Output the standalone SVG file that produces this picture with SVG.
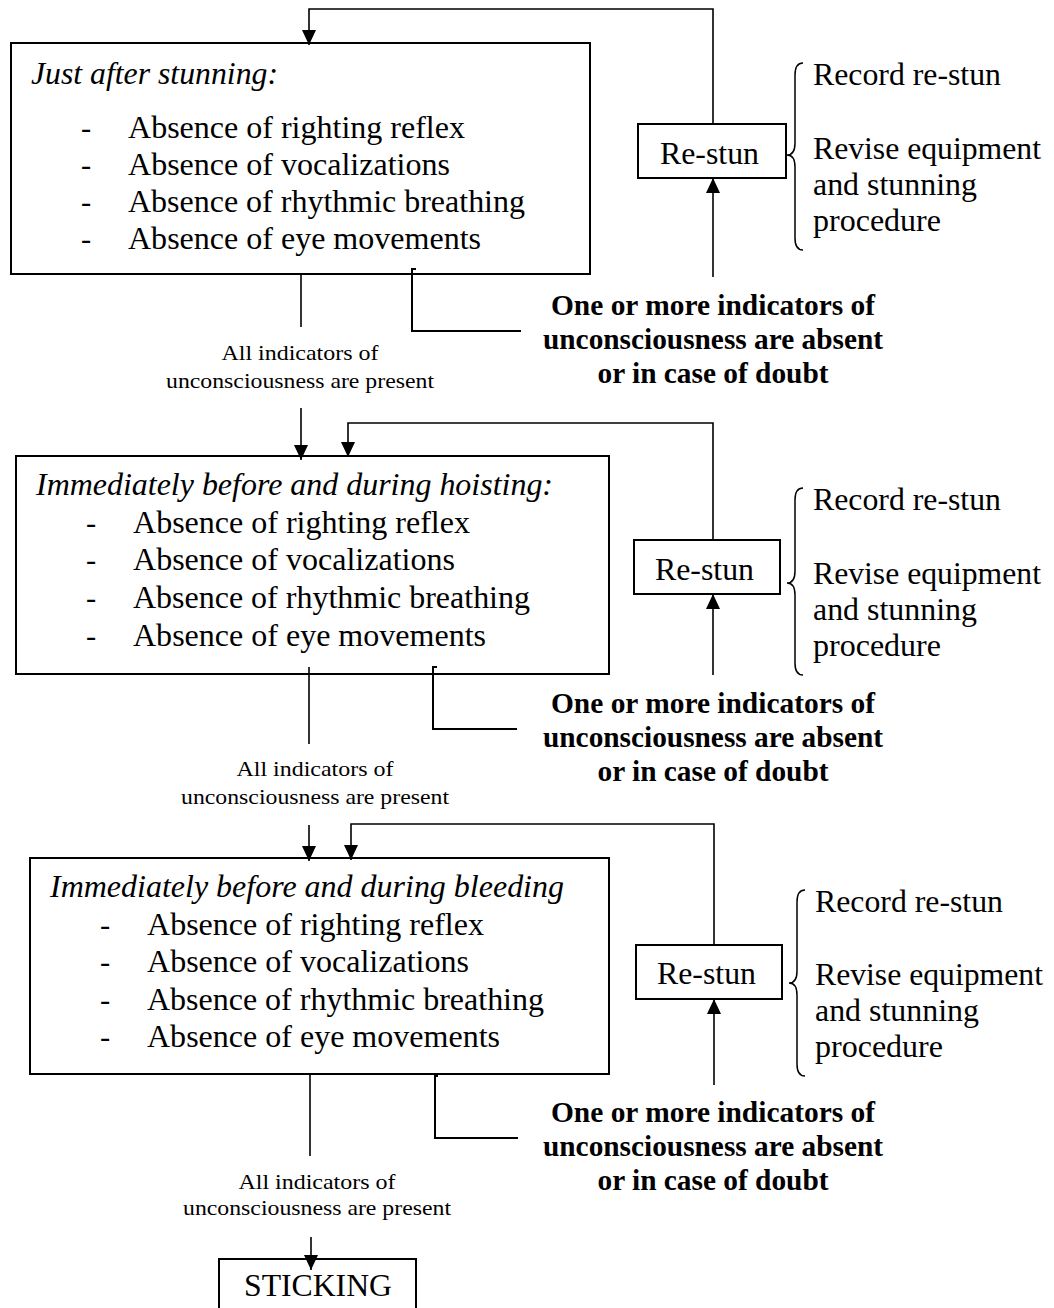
<svg xmlns="http://www.w3.org/2000/svg" width="1054" height="1308" viewBox="0 0 1054 1308">
<style>
  .box{fill:#fff;stroke:#000;stroke-width:2}
  .ln{fill:none;stroke:#000;stroke-width:1.6}
  .br{fill:none;stroke:#000;stroke-width:2}
  .brace{fill:none;stroke:#000;stroke-width:1.5}
  text{font-family:"Liberation Serif","Times New Roman",serif;fill:#000}
  .t{font-size:30.5px}
  .i{font-size:30.5px;font-style:italic}
  .b{font-size:29.5px;font-weight:bold}
  .s{font-size:22px}
</style>
<defs>
  <marker id="ah" markerWidth="15" markerHeight="14" refX="15" refY="7" orient="auto" markerUnits="userSpaceOnUse">
    <path d="M0,0 L15,7 L0,14 z" fill="#000"/>
  </marker>
</defs>
<rect width="1054" height="1308" fill="#fff"/>

<!-- Section 1 -->
<g id="box1">
  <rect class="box" x="11" y="43" width="579" height="231"/>
  <text class="i" x="31" y="84" textLength="247" lengthAdjust="spacingAndGlyphs">Just after stunning:</text>
  <text class="t" x="81" y="138">-</text>
  <text class="t" x="128" y="138" textLength="337" lengthAdjust="spacingAndGlyphs">Absence of righting reflex</text>
  <text class="t" x="81" y="175">-</text>
  <text class="t" x="128" y="175" textLength="322" lengthAdjust="spacingAndGlyphs">Absence of vocalizations</text>
  <text class="t" x="81" y="212">-</text>
  <text class="t" x="128" y="212" textLength="397" lengthAdjust="spacingAndGlyphs">Absence of rhythmic breathing</text>
  <text class="t" x="81" y="249">-</text>
  <text class="t" x="128" y="249" textLength="353" lengthAdjust="spacingAndGlyphs">Absence of eye movements</text>
</g>
<g id="restun1">
  <rect class="box" x="638" y="124" width="148" height="54"/>
  <text class="t" x="660" y="164" textLength="99" lengthAdjust="spacingAndGlyphs">Re-stun</text>
</g>
<g id="actions1">
  <path class="brace" d="M803 63 C797 63 795 67 795 75 L795 143 C795 151 792 155 787 155 C792 155 795 159 795 167 L795 238 C795 246 797 250 803 250"/>
  <text class="t" x="813" y="85" textLength="188" lengthAdjust="spacingAndGlyphs">Record re-stun</text>
  <text class="t" x="813" y="159" textLength="228" lengthAdjust="spacingAndGlyphs">Revise equipment</text>
  <text class="t" x="813" y="195" textLength="164" lengthAdjust="spacingAndGlyphs">and stunning</text>
  <text class="t" x="813" y="231" textLength="128" lengthAdjust="spacingAndGlyphs">procedure</text>
</g>
<g id="fail1">
  <text class="b" x="551" y="315" textLength="324" lengthAdjust="spacingAndGlyphs">One or more indicators of</text>
  <text class="b" x="543" y="349" textLength="340" lengthAdjust="spacingAndGlyphs">unconsciousness are absent</text>
  <text class="b" x="597.5" y="383" textLength="231" lengthAdjust="spacingAndGlyphs">or in case of doubt</text>
</g>
<g id="pass1">
  <text class="s" x="221.5" y="360" textLength="157" lengthAdjust="spacingAndGlyphs">All indicators of</text>
  <text class="s" x="166" y="388" textLength="268" lengthAdjust="spacingAndGlyphs">unconsciousness are present</text>
</g>

<!-- Section 2 -->
<g id="box2">
  <rect class="box" x="16" y="456" width="593" height="218"/>
  <text class="i" x="36" y="495" textLength="517" lengthAdjust="spacingAndGlyphs">Immediately before and during hoisting:</text>
  <text class="t" x="86" y="533">-</text>
  <text class="t" x="133" y="533" textLength="337" lengthAdjust="spacingAndGlyphs">Absence of righting reflex</text>
  <text class="t" x="86" y="570">-</text>
  <text class="t" x="133" y="570" textLength="322" lengthAdjust="spacingAndGlyphs">Absence of vocalizations</text>
  <text class="t" x="86" y="608">-</text>
  <text class="t" x="133" y="608" textLength="397" lengthAdjust="spacingAndGlyphs">Absence of rhythmic breathing</text>
  <text class="t" x="86" y="646">-</text>
  <text class="t" x="133" y="646" textLength="353" lengthAdjust="spacingAndGlyphs">Absence of eye movements</text>
</g>
<g id="restun2">
  <rect class="box" x="634" y="540" width="146" height="54"/>
  <text class="t" x="655" y="580" textLength="99" lengthAdjust="spacingAndGlyphs">Re-stun</text>
</g>
<g id="actions2">
  <path class="brace" d="M803 488 C797 488 795 492 795 500 L795 571 C795 579 792 583 787 583 C792 583 795 587 795 595 L795 663 C795 671 797 675 803 675"/>
  <text class="t" x="813" y="510" textLength="188" lengthAdjust="spacingAndGlyphs">Record re-stun</text>
  <text class="t" x="813" y="584" textLength="228" lengthAdjust="spacingAndGlyphs">Revise equipment</text>
  <text class="t" x="813" y="620" textLength="164" lengthAdjust="spacingAndGlyphs">and stunning</text>
  <text class="t" x="813" y="656" textLength="128" lengthAdjust="spacingAndGlyphs">procedure</text>
</g>
<g id="fail2">
  <text class="b" x="551" y="713" textLength="324" lengthAdjust="spacingAndGlyphs">One or more indicators of</text>
  <text class="b" x="543" y="747" textLength="340" lengthAdjust="spacingAndGlyphs">unconsciousness are absent</text>
  <text class="b" x="597.5" y="781" textLength="231" lengthAdjust="spacingAndGlyphs">or in case of doubt</text>
</g>
<g id="pass2">
  <text class="s" x="236.5" y="776" textLength="157" lengthAdjust="spacingAndGlyphs">All indicators of</text>
  <text class="s" x="181" y="804" textLength="268" lengthAdjust="spacingAndGlyphs">unconsciousness are present</text>
</g>

<!-- Section 3 -->
<g id="box3">
  <rect class="box" x="30" y="858" width="579" height="216"/>
  <text class="i" x="50" y="897" textLength="514" lengthAdjust="spacingAndGlyphs">Immediately before and during bleeding</text>
  <text class="t" x="100" y="935">-</text>
  <text class="t" x="147" y="935" textLength="337" lengthAdjust="spacingAndGlyphs">Absence of righting reflex</text>
  <text class="t" x="100" y="972">-</text>
  <text class="t" x="147" y="972" textLength="322" lengthAdjust="spacingAndGlyphs">Absence of vocalizations</text>
  <text class="t" x="100" y="1010">-</text>
  <text class="t" x="147" y="1010" textLength="397" lengthAdjust="spacingAndGlyphs">Absence of rhythmic breathing</text>
  <text class="t" x="100" y="1047">-</text>
  <text class="t" x="147" y="1047" textLength="353" lengthAdjust="spacingAndGlyphs">Absence of eye movements</text>
</g>
<g id="restun3">
  <rect class="box" x="636" y="945" width="146" height="54"/>
  <text class="t" x="657" y="984" textLength="99" lengthAdjust="spacingAndGlyphs">Re-stun</text>
</g>
<g id="actions3">
  <path class="brace" d="M805 890 C799 890 797 894 797 902 L797 971 C797 979 794 983 789 983 C794 983 797 987 797 995 L797 1064 C797 1072 799 1076 805 1076"/>
  <text class="t" x="815" y="912" textLength="188" lengthAdjust="spacingAndGlyphs">Record re-stun</text>
  <text class="t" x="815" y="985" textLength="228" lengthAdjust="spacingAndGlyphs">Revise equipment</text>
  <text class="t" x="815" y="1021" textLength="164" lengthAdjust="spacingAndGlyphs">and stunning</text>
  <text class="t" x="815" y="1057" textLength="128" lengthAdjust="spacingAndGlyphs">procedure</text>
</g>
<g id="fail3">
  <text class="b" x="551" y="1122" textLength="324" lengthAdjust="spacingAndGlyphs">One or more indicators of</text>
  <text class="b" x="543" y="1156" textLength="340" lengthAdjust="spacingAndGlyphs">unconsciousness are absent</text>
  <text class="b" x="597.5" y="1190" textLength="231" lengthAdjust="spacingAndGlyphs">or in case of doubt</text>
</g>
<g id="pass3">
  <text class="s" x="238.5" y="1189" textLength="157" lengthAdjust="spacingAndGlyphs">All indicators of</text>
  <text class="s" x="183" y="1215" textLength="268" lengthAdjust="spacingAndGlyphs">unconsciousness are present</text>
</g>

<g id="sticking">
  <rect class="box" x="219" y="1259" width="197" height="70"/>
  <text class="t" x="244" y="1296" textLength="148" lengthAdjust="spacingAndGlyphs">STICKING</text>
</g>

<!-- Connectors -->
<g id="connectors">
  <path class="ln" d="M713 124 V9 H309 V45" marker-end="url(#ah)"/>
  <path class="ln" d="M713 277 V178" marker-end="url(#ah)"/>
  <path class="ln" d="M301 274 V327"/>
  <path class="br" d="M416 269 H412 V331 H521"/>
  <path class="ln" d="M301 408 V460" marker-end="url(#ah)"/>
  <path class="ln" d="M713 540 V423 H348 V457" marker-end="url(#ah)"/>

  <path class="ln" d="M713 675 V594" marker-end="url(#ah)"/>
  <path class="ln" d="M309 667 V744"/>
  <path class="br" d="M437 667 H433 V729 H517"/>
  <path class="ln" d="M309 825 V861" marker-end="url(#ah)"/>
  <path class="ln" d="M714 945 V824 H351 V860" marker-end="url(#ah)"/>

  <path class="ln" d="M714 1085 V999" marker-end="url(#ah)"/>
  <path class="ln" d="M310 1074 V1156"/>
  <path class="br" d="M438 1076 H435 V1138 H518"/>
  <path class="ln" d="M311 1237 V1270" marker-end="url(#ah)"/>
</g>
</svg>
